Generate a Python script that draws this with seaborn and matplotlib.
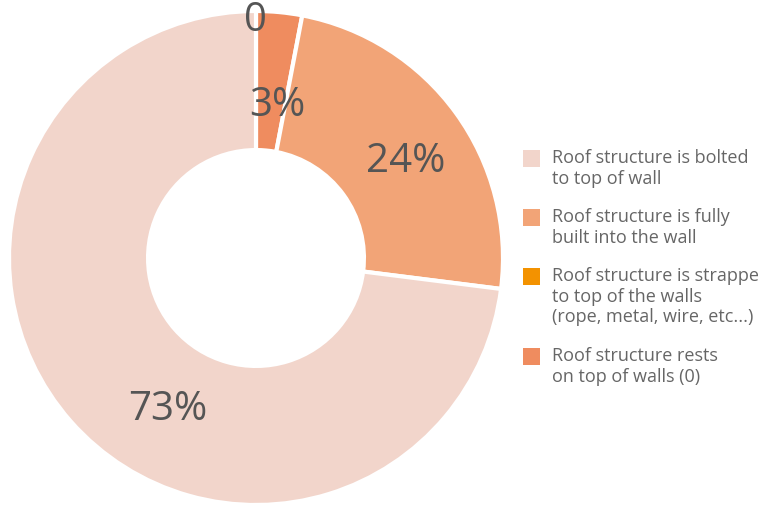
import matplotlib
matplotlib.use("Agg")
import matplotlib.pyplot as plt
import seaborn as sns

# Share of roof-to-wall connection types (clockwise from 12 o'clock)
categories = [
    "Roof structure is strapped to top of the walls (rope, metal, wire, etc...)",
    "Roof structure rests on top of walls (0)",
    "Roof structure is fully built into the wall",
    "Roof structure is bolted to top of wall",
]
values = [0, 3, 24, 73]
slice_labels = ["0", "3%", "24%", "73%"]
colors = ["#F39200", "#EF8C5F", "#F2A477", "#F2D5CB"]

# Legend order and wrapped text
legend_order = [3, 2, 0, 1]
legend_text = [
    "Roof structure is bolted\nto top of wall",
    "Roof structure is fully\nbuilt into the wall",
    "Roof structure is strapped\nto top of the walls\n(rope, metal, wire, etc...)",
    "Roof structure rests\non top of walls (0)",
]

sns.set_theme(style="white")
plt.rcParams["font.family"] = ["Open Sans", "DejaVu Sans"]

W, H = 759, 512
fig = plt.figure(figsize=(W / 100, H / 100), dpi=100)
fig.patch.set_facecolor("white")

cx, cy, r = 256, 258, 247
ax = fig.add_axes([(cx - r) / W, (H - cy - r) / H, 2 * r / W, 2 * r / H])
ax.pie(values, colors=colors, startangle=90, counterclock=False,
       radius=1.0, wedgeprops=dict(width=0.563, edgecolor="white", linewidth=3))
ax.set_xlim(-1, 1)
ax.set_ylim(-1, 1)
ax.set_aspect("equal")
ax.axis("off")

# Slice labels, placed in pixel coordinates
label_pos = [(255, 21), (277, 106), (406, 162), (168, 410)]
for txt, (px, py) in zip(slice_labels, label_pos):
    fig.text(px / W, 1 - py / H, txt, ha="center", va="center",
             fontsize=29, color="#555555")

# Legend
item_y = [158, 217, 276, 356]
for k, (idx, text) in enumerate(zip(legend_order, legend_text)):
    y = item_y[k]
    fig.patches.append(plt.Rectangle((523 / W, 1 - (y + 9) / H), 17 / W, 17 / H,
                                     transform=fig.transFigure,
                                     facecolor=colors[idx], edgecolor="none"))
    fig.text(552 / W, 1 - (y - 9) / H, text, ha="left", va="top",
             fontsize=13, color="#666666", linespacing=1.18)

fig.savefig("out.png", dpi=100, facecolor="white")
